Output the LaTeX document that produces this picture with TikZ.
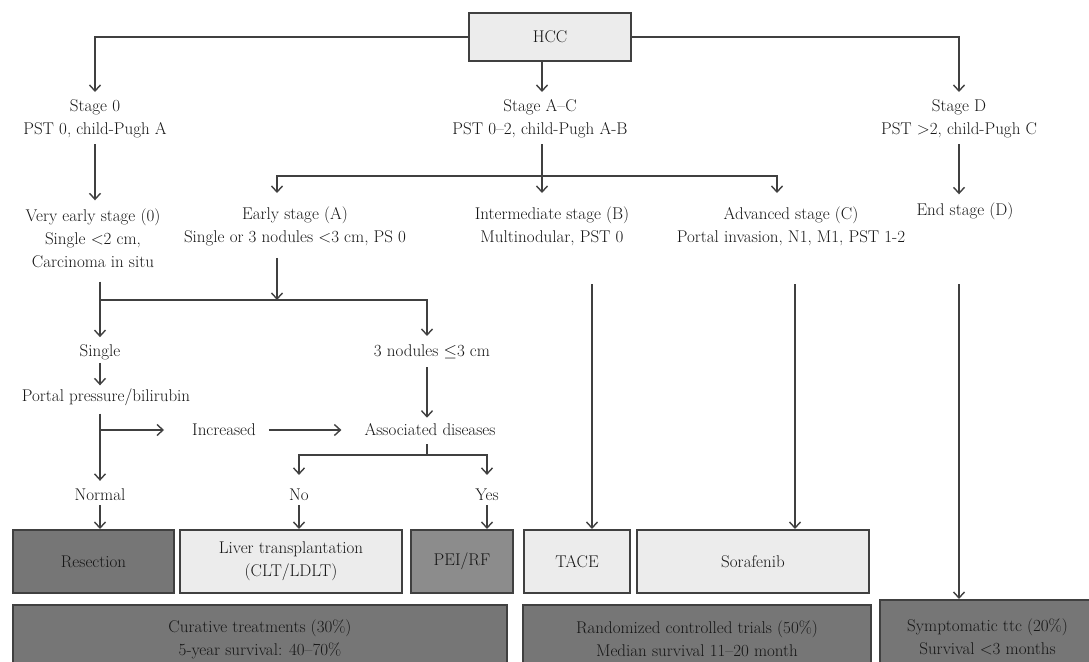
\documentclass[tikz,border=0pt]{standalone}
\usepackage{amssymb}
\usetikzlibrary{arrows.meta}
\definecolor{linegray}{RGB}{64,64,64}
\definecolor{txtgray}{RGB}{22,22,22}
\definecolor{darkfill}{RGB}{118,118,118}
\definecolor{midfill}{RGB}{140,140,140}
\definecolor{lightfill}{RGB}{236,236,236}
\begin{document}
\begin{tikzpicture}
[x=1pt,y=-1pt,
lbl/.style={align=center,inner sep=0pt,text=txtgray,
font=\fontsize{17}{23}\selectfont},
boxnode/.style={lbl,draw=linegray,line width=2pt,minimum height=63pt},
darkbox/.style={boxnode,fill=darkfill},
midbox/.style={boxnode,fill=midfill},
lightbox/.style={boxnode,fill=lightfill},
conn/.style={draw=linegray,line width=1.4pt,
-{Straight Barb[length=6pt,width=11pt,line width=1.4pt]}},
plainline/.style={draw=linegray,line width=1.4pt}
]
\useasboundingbox (0,0) rectangle (1089,661);
\clip (0,0) rectangle (1089,661);
\node [lightbox,minimum width=162pt,minimum height=48pt] (hcc) at (550,37) {HCC};
\node [lbl] (st0) at (95,119) {Stage 0\\PST 0, child-Pugh A};
\node [lbl] (stac) at (540,119) {Stage A--C\\PST 0--2, child-Pugh A-B};
\node [lbl] (std) at (959,119) {Stage D\\PST {>}2, child-Pugh C};
\coordinate (t0) at (95,92);
\coordinate (tac) at (542,92);
\coordinate (td) at (959,92);
\draw [conn] (hcc.west) -| (t0);
\draw [conn] (hcc.south -| tac) -- (tac);
\draw [conn] (hcc.east) -| (td);
\node [lbl] (vearly) at (93,238) {Very early stage (0)\\Single {<}2 cm,\\Carcinoma in situ};
\node [lbl] (early) at (295,226) {Early stage (A)\\Single or 3 nodules {<}3 cm, PS 0};
\node [lbl] (inter) at (552,226) {Intermediate stage (B)\\Multinodular, PST 0};
\node [lbl] (adv) at (791,226) {Advanced stage (C)\\Portal invasion, N1, M1, PST 1-2};
\node [lbl] (endst) at (965,211) {End stage (D)};
\draw [conn,shorten <=6pt,shorten >=8pt] (st0.south) -- (st0.south |- vearly.north);
\coordinate (bac) at (542,176);
\coordinate (ta) at (277,193);
\coordinate (tb) at (542,193);
\coordinate (tc) at (777,193);
\draw [plainline,shorten <=6pt] (stac.south -| bac) -- (bac);
\draw [conn] (bac) -| (ta);
\draw [conn] (bac) -- (tb);
\draw [conn] (bac) -| (tc);
\draw [conn,shorten <=6pt,shorten >=8pt] (std.south -| td) -- (td |- endst.north);
\node [lbl] (single) at (100,352) {Single};
\node [lbl] (three) at (432,352) {3 nodules $\leq$3 cm};
\coordinate (ea) at (277,300);
\coordinate (lv) at (100,300);
\coordinate (t3) at (427,336);
\draw [conn,shorten <=12pt] (ta |- early.south) -- (ea);
\draw [conn,shorten <=14pt,shorten >=7pt] (vearly.south -| lv) -- (lv |- single.north);
\draw [conn] (lv) -| (t3);
\node [lbl] (portal) at (106,397) {Portal pressure/bilirubin};
\node [lbl] (assoc) at (430,430) {Associated diseases};
\node [lbl] (incr) at (224,430) {Increased};
\draw [conn,shorten <=3pt,shorten >=3pt] (single.south -| lv) -- (lv |- portal.north);
\draw [conn,shorten <=8pt,shorten >=6pt] (three.south -| t3) -- (t3 |- assoc.north);
\node [lbl] (normal) at (100,495) {Normal};
\node [lbl] (no) at (299,495) {No};
\node [lbl] (yes) at (487,495) {Yes};
\draw [conn,shorten <=8pt,shorten >=8pt] (portal.south -| lv) -- (lv |- normal.north);
\draw [conn,shorten >=28pt] (lv |- incr) -- (incr.west);
\draw [conn,shorten <=13pt,shorten >=23pt] (incr.east) -- (assoc.west);
\coordinate (ja) at (427,455);
\draw [plainline,shorten <=8pt] (assoc.south -| ja) -- (ja);
\draw [conn,shorten >=14pt] (ja) -| (no.north);
\draw [conn,shorten >=14pt] (ja) -| (yes.north);
\node [darkbox,minimum width=161pt] (resec) at (93.5,561.5) {Resection};
\node [lightbox,minimum width=222pt] (liver) at (291,561.5) {Liver transplantation\\(CLT/LDLT)};
\node [midbox,minimum width=102pt] (pei) at (462,561.5) {PEI/RF};
\node [lightbox,minimum width=106pt] (tace) at (577,561.5) {TACE};
\node [lightbox,minimum width=232pt] (sora) at (753,561.5) {Sorafenib};
\draw [conn,shorten <=4pt] (normal.south) -- (normal.south |- resec.north);
\draw [conn,shorten <=4pt] (no.south) -- (no.south |- liver.north);
\draw [conn,shorten <=4pt] (yes.south) -- (yes.south |- pei.north);
\coordinate (vb) at (592,284);
\coordinate (vc) at (795,284);
\coordinate (vd) at (959,284);
\draw [conn] (vb) -- (vb |- tace.north);
\draw [conn] (vc) -- (vc |- sora.north);
\node [darkbox,minimum width=494pt,minimum height=68pt] (cura) at (260,639) {Curative treatments (30\%)\\5-year survival: 40--70\%};
\node [darkbox,minimum width=348pt,minimum height=68pt] (rct) at (697,639) {Randomized controlled trials (50\%)\\Median survival 11--20 month};
\node [darkbox,minimum width=215pt,minimum height=74pt] (symp) at (987.5,637) {Symptomatic ttc (20\%)\\Survival {<}3 months};
\draw [conn] (vd) -- (vd |- symp.north);
\end{tikzpicture}
\end{document}
